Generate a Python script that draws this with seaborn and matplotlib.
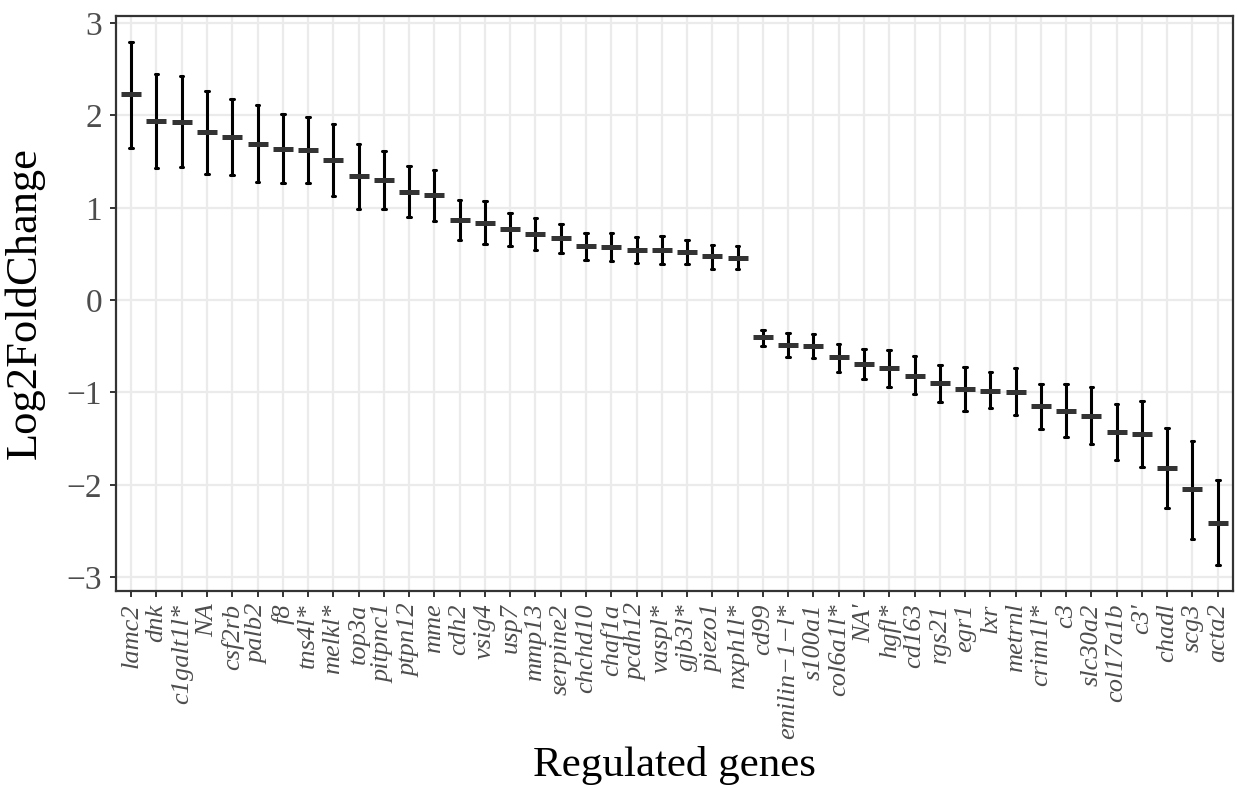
import matplotlib
matplotlib.use("Agg")
import matplotlib.pyplot as plt
import numpy as np
import seaborn as sns
import pandas as pd

# genes ordered as in the figure
genes = ["lamc2", "dnk", "c1galt1l*", "NA", "csf2rb", "palb2", "f8", "tns4l*",
         "melkl*", "top3a", "pitpnc1", "ptpn12", "mme", "cdh2", "vsig4", "usp7",
         "mmp13", "serpine2", "chchd10", "chaf1a", "pcdh12", "vaspl*", "gjb3l*",
         "piezo1", "nxph1l*", "cd99", "emilin\u22121\u2212l*", "s100a1", "col6a1l*",
         "NA'", "hgfl*", "cd163", "rgs21", "egr1", "lxr", "metrnl", "crim1l*",
         "c3", "slc30a2", "col17a1b", "c3'", "chadl", "scg3", "acta2"]

log2fc = [2.23, 1.94, 1.93, 1.82, 1.77, 1.69, 1.64, 1.63, 1.52, 1.34, 1.30, 1.17,
          1.14, 0.87, 0.84, 0.77, 0.72, 0.67, 0.59, 0.58, 0.54, 0.54, 0.52, 0.48,
          0.46, -0.40, -0.49, -0.50, -0.62, -0.69, -0.74, -0.82, -0.90, -0.96,
          -0.98, -0.99, -1.15, -1.20, -1.25, -1.43, -1.45, -1.82, -2.05, -2.41]

upper = [2.80, 2.45, 2.43, 2.27, 2.18, 2.11, 2.02, 1.98, 1.91, 1.69, 1.62, 1.45,
         1.41, 1.09, 1.07, 0.94, 0.89, 0.83, 0.73, 0.73, 0.68, 0.69, 0.65, 0.60,
         0.59, -0.32, -0.36, -0.37, -0.47, -0.53, -0.54, -0.61, -0.70, -0.72,
         -0.78, -0.73, -0.91, -0.91, -0.94, -1.13, -1.09, -1.38, -1.53, -1.95]

lower = [1.65, 1.43, 1.44, 1.37, 1.36, 1.28, 1.27, 1.27, 1.13, 0.99, 0.99, 0.90,
         0.86, 0.65, 0.61, 0.59, 0.54, 0.51, 0.43, 0.42, 0.40, 0.39, 0.39, 0.34,
         0.34, -0.50, -0.62, -0.63, -0.78, -0.85, -0.94, -1.02, -1.10, -1.20,
         -1.17, -1.24, -1.40, -1.48, -1.56, -1.73, -1.81, -2.25, -2.59, -2.87]

means = pd.DataFrame({"gene": genes, "lfc": log2fc})
# long table: lower / estimate / upper per gene, the interval is min..max
bounds = pd.DataFrame({"gene": genes * 3, "lfc": lower + log2fc + upper})

sns.set_theme(style="whitegrid")
plt.rcParams["font.family"] = ["Liberation Serif", "DejaVu Serif"]

fig, ax = plt.subplots(figsize=(12.38, 7.89), dpi=100)
fig.subplots_adjust(left=0.0937, right=0.9959, top=0.980, bottom=0.251)

# error bars
sns.pointplot(data=bounds, x="gene", y="lfc", order=genes, estimator="median",
              errorbar=("pi", 100), linestyle="none", marker="", color="black",
              capsize=0.14, err_kws={"linewidth": 2.2}, ax=ax)
# estimate dashes
sns.pointplot(data=means, x="gene", y="lfc", order=genes, errorbar=None,
              linestyle="none", marker="_", markersize=14, markeredgewidth=3.6,
              color="#333333", ax=ax)

ax.set_xlim(-0.6, len(genes) - 0.4)
ax.set_ylim(-3.15, 3.08)
ax.set_yticks([-3, -2, -1, 0, 1, 2, 3])
ax.set_yticklabels(["\u22123", "\u22122", "\u22121", "0", "1", "2", "3"])

ax.set_facecolor("white")
ax.grid(True, axis="both", color="#EBEBEB", linewidth=1.6)
ax.set_axisbelow(True)
for s in ax.spines.values():
    s.set_visible(True)
    s.set_color("#333333")
    s.set_linewidth(1.6)

ax.tick_params(axis="both", which="major", length=4, width=1.4, color="#333333",
               bottom=True, left=True)
ax.tick_params(axis="y", labelsize=24, labelcolor="#4D4D4D", pad=6)
ax.tick_params(axis="x", labelsize=19, labelcolor="#4D4D4D", pad=5)
for lab in ax.get_xticklabels():
    lab.set_rotation(90)
    lab.set_style("italic")
    lab.set_ha("center")
    lab.set_va("top")

ax.set_xlabel("Regulated genes", fontsize=31, color="black", va="baseline")
ax.xaxis.set_label_coords(0.5, -0.322)
ax.set_ylabel("Log2FoldChange", fontsize=32, color="black")
ax.yaxis.set_label_coords(-0.064, 0.5)

fig.savefig("out.png", dpi=100, facecolor="white")
